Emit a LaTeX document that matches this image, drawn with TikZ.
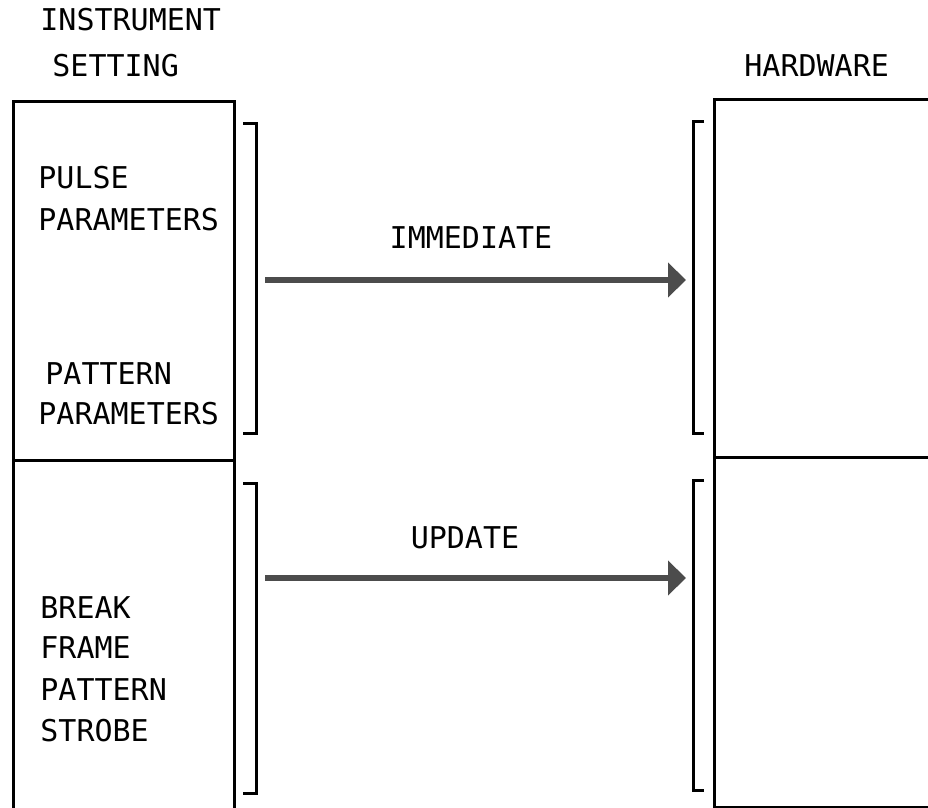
\documentclass[tikz,border=0pt]{standalone}
\usepackage{fontspec}
\newfontfamily\plotfont{DejaVu Sans Mono}
\usetikzlibrary{arrows.meta,positioning}

\begin{document}
\begin{tikzpicture}[
  x=0.5pt, y=-0.5pt,
  lbl/.style={font=\plotfont\fontsize{15}{18}\selectfont, inner sep=0pt, anchor=west},
  panel/.style={draw, line width=1.5pt, inner sep=0pt, anchor=north west,
                minimum height=354pt},
  brk/.style={line width=1.5pt},
  arr/.style={-{Triangle[length=9pt, width=17pt]}, line width=3pt, color=black!70}
]
\useasboundingbox (0,0) rectangle (928,808);
\clip (0,0) rectangle (928,808);

% panels
\node[panel, minimum width=110.5pt] (setting) at (12,100) {};
\node[panel, minimum width=115pt] (hardware) at (713,98) {};
\draw[brk] (12,460) -- (233,460);
\draw[brk] (713,457) -- (930,457);

% headings
\node[lbl] (instr) at (40,20) {INSTRUMENT};
\node[lbl] (sett) at (52,66) {SETTING};
\node[lbl] (hw) at (744,66) {HARDWARE};

% group texts
\node[lbl] (pulse) at (38,178) {PULSE};
\node[lbl] (pulsepar) at (38,220) {PARAMETERS};
\node[lbl] (patt) at (45,374) {PATTERN};
\node[lbl] (pattpar) at (38,414) {PARAMETERS};
\node[lbl] (brk1) at (40,608) {BREAK};
\node[lbl] (frame) at (40,648) {FRAME};
\node[lbl] (patt2) at (40,690) {PATTERN};
\node[lbl] (strobe) at (40,731) {STROBE};

% brackets
\draw[brk] (243,124) -- (256,124) -- (256,433) -- (243,433);
\draw[brk] (243,483) -- (256,483) -- (256,793) -- (243,793);
\draw[brk] (704,122) -- (693,122) -- (693,433) -- (704,433);
\draw[brk] (704,480) -- (693,480) -- (693,790) -- (704,790);

% transfers
\coordinate (imm-from) at (265,280);
\coordinate (imm-to) at (686,280);
\coordinate (upd-from) at (265,578);
\coordinate (upd-to) at (686,578);
\draw[arr] (imm-from) -- (imm-to);
\draw[arr] (upd-from) -- (upd-to);
\node[lbl, anchor=center] (imm) at (471,238) {IMMEDIATE};
\node[lbl, anchor=center] (upd) at (465,538) {UPDATE};

\end{tikzpicture}
\end{document}
